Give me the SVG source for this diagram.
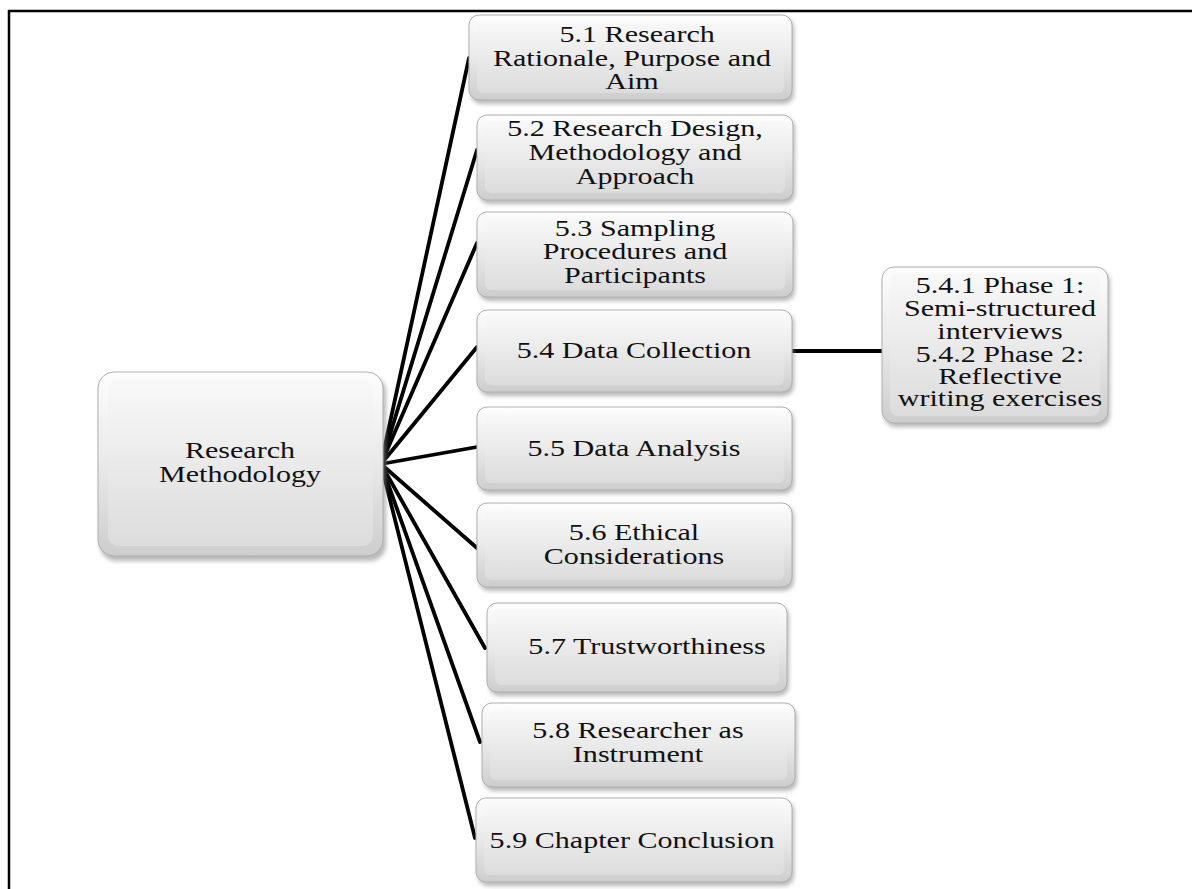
<svg xmlns="http://www.w3.org/2000/svg" width="1192" height="889" viewBox="0 0 1192 889">
<defs>
<linearGradient id="gv" x1="0" y1="0" x2="0" y2="1">
<stop offset="0" stop-color="#fdfdfd"/>
<stop offset="0.5" stop-color="#e9e9e9"/>
<stop offset="1" stop-color="#cdcdcd"/>
</linearGradient>
<linearGradient id="gin" x1="0" y1="0" x2="0" y2="1">
<stop offset="0" stop-color="#f8f8f8"/>
<stop offset="1" stop-color="#dcdcdc"/>
</linearGradient>
<filter id="sh" x="-10%" y="-10%" width="120%" height="130%">
<feGaussianBlur stdDeviation="2"/>
</filter>
</defs>
<style>
.shadow{fill:#8a8a8a;opacity:0.6;filter:url(#sh)}
.box{fill:url(#gv);stroke:#b0b0b0;stroke-width:1}
.inner{fill:url(#gin)}
.t{font-family:"Liberation Serif","Times New Roman",serif;font-size:23.5px;fill:#111;text-anchor:middle}
.c{stroke:#000;stroke-width:3.8;fill:none;stroke-linecap:round}
</style>
<rect x="0" y="0" width="1192" height="889" fill="#fff"/>
<rect x="9" y="11" width="1200" height="900" fill="none" stroke="#000" stroke-width="2.5"/>

<g id="connectors">
<line class="c" x1="381" y1="464" x2="469" y2="58"/>
<line class="c" x1="381" y1="464" x2="477" y2="150"/>
<line class="c" x1="381" y1="464" x2="477" y2="243"/>
<line class="c" x1="381" y1="464" x2="477" y2="347"/>
<line class="c" x1="381" y1="464" x2="477" y2="447"/>
<line class="c" x1="381" y1="464" x2="477" y2="548"/>
<line class="c" x1="381" y1="464" x2="485" y2="648"/>
<line class="c" x1="381" y1="464" x2="480" y2="742"/>
<line class="c" x1="381" y1="464" x2="475" y2="838"/>
<line class="c" x1="792" y1="351" x2="883" y2="351"/>
</g>

<g id="root">
<rect class="shadow" x="100" y="376" width="286" height="185" rx="16"/>
<rect class="box" x="98" y="372" width="285" height="184" rx="16"/>
<rect class="inner" x="108" y="380" width="265" height="166" rx="10"/>
<g transform="translate(240,0) scale(1.28,1)">
<text class="t" x="0" y="458">Research</text>
<text class="t" x="0" y="482">Methodology</text>
</g>
</g>

<g id="n51">
<rect class="shadow" x="471" y="18" width="323" height="86" rx="10"/>
<rect class="box" x="469" y="15" width="323" height="85" rx="10"/>
<rect class="inner" x="477" y="22" width="307" height="71" rx="6"/>
<g transform="translate(632,0) scale(1.28,1)">
<text class="t" x="4" y="42">5.1 Research</text>
<text class="t" x="0" y="66">Rationale, Purpose and</text>
<text class="t" x="0" y="89">Aim</text>
</g>
</g>

<g id="n52">
<rect class="shadow" x="479" y="118" width="316" height="86" rx="10"/>
<rect class="box" x="477" y="115" width="316" height="85" rx="10"/>
<rect class="inner" x="485" y="122" width="300" height="71" rx="6"/>
<g transform="translate(635,0) scale(1.28,1)">
<text class="t" x="0" y="136">5.2 Research Design,</text>
<text class="t" x="0" y="160">Methodology and</text>
<text class="t" x="0" y="184">Approach</text>
</g>
</g>

<g id="n53">
<rect class="shadow" x="479" y="215" width="316" height="86" rx="10"/>
<rect class="box" x="477" y="212" width="316" height="85" rx="10"/>
<rect class="inner" x="485" y="219" width="300" height="71" rx="6"/>
<g transform="translate(635,0) scale(1.28,1)">
<text class="t" x="0" y="236">5.3 Sampling</text>
<text class="t" x="0" y="259">Procedures and</text>
<text class="t" x="0" y="283">Participants</text>
</g>
</g>

<g id="n54">
<rect class="shadow" x="479" y="313" width="315" height="83" rx="10"/>
<rect class="box" x="477" y="310" width="315" height="82" rx="10"/>
<rect class="inner" x="485" y="317" width="299" height="68" rx="6"/>
<g transform="translate(634,0) scale(1.28,1)">
<text class="t" x="0" y="358">5.4 Data Collection</text>
</g>
</g>

<g id="n55">
<rect class="shadow" x="479" y="410" width="315" height="84" rx="10"/>
<rect class="box" x="477" y="407" width="315" height="83" rx="10"/>
<rect class="inner" x="485" y="414" width="299" height="69" rx="6"/>
<g transform="translate(634,0) scale(1.28,1)">
<text class="t" x="0" y="456">5.5 Data Analysis</text>
</g>
</g>

<g id="n56">
<rect class="shadow" x="479" y="506" width="315" height="85" rx="10"/>
<rect class="box" x="477" y="503" width="315" height="84" rx="10"/>
<rect class="inner" x="485" y="510" width="299" height="70" rx="6"/>
<g transform="translate(634,0) scale(1.28,1)">
<text class="t" x="0" y="540">5.6 Ethical</text>
<text class="t" x="0" y="564">Considerations</text>
</g>
</g>

<g id="n57">
<rect class="shadow" x="489" y="606" width="300" height="90" rx="10"/>
<rect class="box" x="487" y="603" width="300" height="89" rx="10"/>
<rect class="inner" x="495" y="610" width="284" height="75" rx="6"/>
<g transform="translate(647,0) scale(1.28,1)">
<text class="t" x="0" y="654">5.7 Trustworthiness</text>
</g>
</g>

<g id="n58">
<rect class="shadow" x="484" y="706" width="313" height="85" rx="10"/>
<rect class="box" x="482" y="703" width="313" height="84" rx="10"/>
<rect class="inner" x="490" y="710" width="297" height="70" rx="6"/>
<g transform="translate(638,0) scale(1.28,1)">
<text class="t" x="0" y="738">5.8 Researcher as</text>
<text class="t" x="0" y="762">Instrument</text>
</g>
</g>

<g id="n59">
<rect class="shadow" x="478" y="801" width="316" height="85" rx="10"/>
<rect class="box" x="476" y="798" width="316" height="84" rx="10"/>
<rect class="inner" x="484" y="805" width="300" height="70" rx="6"/>
<g transform="translate(632,0) scale(1.28,1)">
<text class="t" x="0" y="848">5.9 Chapter Conclusion</text>
</g>
</g>

<g id="n54sub">
<rect class="shadow" x="884" y="270" width="226" height="157" rx="12"/>
<rect class="box" x="882" y="267" width="226" height="156" rx="12"/>
<rect class="inner" x="890" y="274" width="210" height="142" rx="8"/>
<g transform="translate(1000,0) scale(1.28,1)">
<text class="t" x="0" y="293">5.4.1 Phase 1:</text>
<text class="t" x="0" y="316">Semi-structured</text>
<text class="t" x="0" y="339">interviews</text>
<text class="t" x="0" y="362">5.4.2 Phase 2:</text>
<text class="t" x="0" y="384">Reflective</text>
<text class="t" x="0" y="406">writing exercises</text>
</g>
</g>
</svg>
